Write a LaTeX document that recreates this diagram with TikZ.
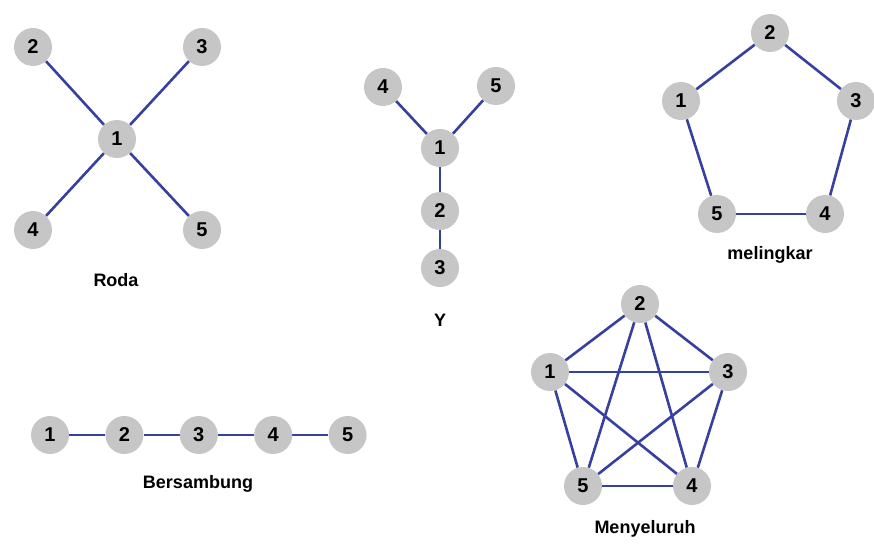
\documentclass[tikz,border=0pt]{standalone}
\usepackage{fontspec}
\setmainfont{Liberation Sans}
\usetikzlibrary{positioning}
\definecolor{garisbiru}{RGB}{55,64,158}
\definecolor{abu}{RGB}{198,198,198}
\tikzset{
anggota/.style={circle,fill=abu,minimum size=38pt,inner sep=0pt,font=\bfseries\fontsize{20}{20}\selectfont},
hubung/.style={draw=garisbiru,line width=2.6pt},
judul/.style={font=\bfseries\fontsize{18}{18}\selectfont}
}
\pgfdeclarelayer{background}
\pgfsetlayers{background,main}

\begin{document}
\begin{tikzpicture}[x=1pt,y=-1pt]
\useasboundingbox (0,0) rectangle (874,548);
%%% roda
\node[anggota] (r1) at (117,139) {1};
\node[anggota] (r2) at (33,47) {2};
\node[anggota] (r3) at (202,47) {3};
\node[anggota] (r4) at (33,230) {4};
\node[anggota] (r5) at (202,230) {5};
\node[judul] (roda) at (116,280) {Roda};
%%% Y
\node[anggota] (y1) at (440,148) {1};
\node[anggota] (y2) at (440,211) {2};
\node[anggota] (y3) at (440,268) {3};
\node[anggota] (y4) at (383,87) {4};
\node[anggota] (y5) at (496,86) {5};
\node[judul] (ye) at (440,320) {Y};
%%% melingkar
\node[anggota] (m1) at (681,101) {1};
\node[anggota] (m2) at (770,33) {2};
\node[anggota] (m3) at (856,101) {3};
\node[anggota] (m4) at (825,214) {4};
\node[anggota] (m5) at (717,214) {5};
\node[judul] (lingkar) at (770,255) {melingkar};
%%% bersambung
\node[anggota] (b1) at (50,435) {1};
\foreach \i [count=\j from 2] in {1,...,4}
  \node[anggota,right=36pt of b\i] (b\j) {\j};
\node[judul] (sambung) at (198,484) {Bersambung};
%%% menyeluruh
\node[anggota] (s1) at (550,372) {1};
\node[anggota] (s2) at (640,304) {2};
\node[anggota] (s3) at (728,372) {3};
\node[anggota] (s4) at (692,486) {4};
\node[anggota] (s5) at (583,486) {5};
\node[judul] (seluruh) at (645,529) {Menyeluruh};
%%% garis di belakang
\begin{pgfonlayer}{background}
\foreach \i in {2,...,5}
  \draw[hubung] (r1) -- (r\i);
\foreach \i in {2,4,5}
  \draw[hubung] (y1) -- (y\i);
\draw[hubung] (y2) -- (y3);
\foreach \i/\k in {1/2,2/3,3/4,4/5,5/1}
{
  \draw[hubung] (m\i) -- (m\k);
}
\foreach \i/\k in {1/2,2/3,3/4,4/5}
  \draw[hubung] (b\i) -- (b\k);
\foreach \i in {1,...,4}
{
 \pgfmathtruncatemacro\lanjut{\i+1}
 \foreach \k in {\lanjut,...,5}
 {
  \draw[hubung] (s\i) -- (s\k);
 }
}
\end{pgfonlayer}
\end{tikzpicture}
\end{document}
